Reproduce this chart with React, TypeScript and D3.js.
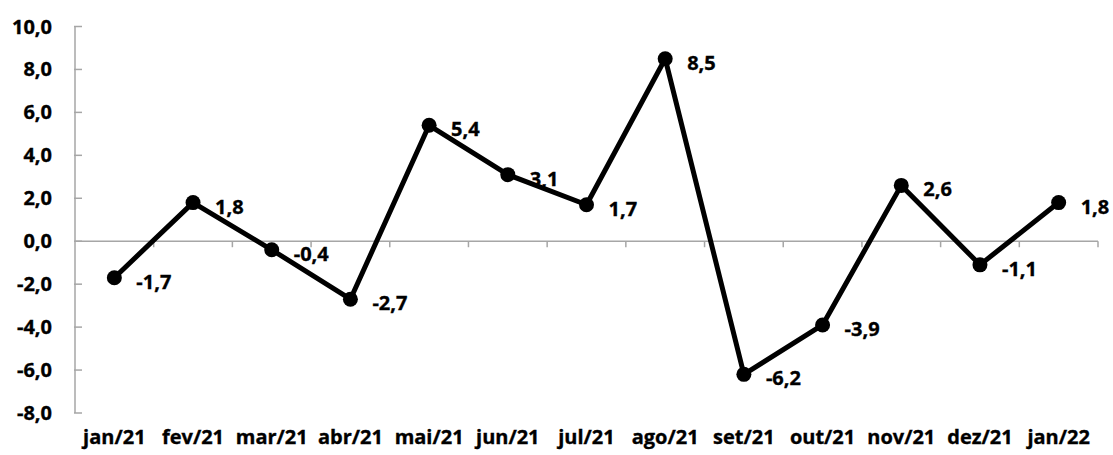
import React, { useEffect, useRef } from 'react';
import * as d3 from 'd3';

const WIDTH = 1113;
const HEIGHT = 455;

const months = [
  'jan/21', 'fev/21', 'mar/21', 'abr/21', 'mai/21', 'jun/21', 'jul/21',
  'ago/21', 'set/21', 'out/21', 'nov/21', 'dez/21', 'jan/22',
];
const values = [-1.7, 1.8, -0.4, -2.7, 5.4, 3.1, 1.7, 8.5, -6.2, -3.9, 2.6, -1.1, 1.8];
const yTicks = [-8, -6, -4, -2, 0, 2, 4, 6, 8, 10];

const FONT = '"Open Sans", Lato, sans-serif';
const FONT_SIZE = 20;
const AXIS_GREY = '#a6a6a6';

const fmt = (v: number) => v.toFixed(1).replace('.', ',');

const App: React.FC = () => {
  const ref = useRef<SVGSVGElement>(null);

  useEffect(() => {
    const svg = d3.select(ref.current);
    svg.selectAll('*').remove();

    const x = d3.scaleBand<string>().domain(months).range([75, 1098]);
    const y = d3.scaleLinear().domain([-8, 10]).range([413, 26.5]);
    const cx = (m: string) => (x(m) as number) + x.bandwidth() / 2;

    const boldText = (sel: any) =>
      sel
        .attr('font-family', FONT)
        .attr('font-weight', 'bold')
        .attr('font-size', FONT_SIZE)
        .attr('fill', '#000')
        .attr('stroke', '#000')
        .attr('stroke-width', 0.35);

    // y axis: line + inner ticks
    const yAxis = svg.append('g');
    yAxis
      .append('line')
      .attr('x1', 75)
      .attr('x2', 75)
      .attr('y1', y(-8))
      .attr('y2', y(10))
      .attr('stroke', AXIS_GREY)
      .attr('stroke-width', 1.5);
    yAxis
      .selectAll('line.tick')
      .data(yTicks)
      .join('line')
      .attr('class', 'tick')
      .attr('x1', 74)
      .attr('x2', 82)
      .attr('y1', (d) => y(d))
      .attr('y2', (d) => y(d))
      .attr('stroke', AXIS_GREY)
      .attr('stroke-width', 1.5);
    yAxis
      .selectAll('text')
      .data(yTicks)
      .join('text')
      .attr('x', 52)
      .attr('y', (d) => y(d))
      .attr('dy', '0.35em')
      .attr('text-anchor', 'end')
      .call(boldText)
      .text((d) => fmt(d));

    // zero line with category ticks
    const xAxis = svg.append('g');
    xAxis
      .append('line')
      .attr('x1', 75)
      .attr('x2', 1098)
      .attr('y1', y(0))
      .attr('y2', y(0))
      .attr('stroke', AXIS_GREY)
      .attr('stroke-width', 1.5);
    const bounds = months.map((m) => x(m) as number).concat([1098]);
    xAxis
      .selectAll('line.tick')
      .data(bounds.slice(1))
      .join('line')
      .attr('class', 'tick')
      .attr('x1', (d) => d)
      .attr('x2', (d) => d)
      .attr('y1', y(0))
      .attr('y2', y(0) + 6)
      .attr('stroke', AXIS_GREY)
      .attr('stroke-width', 1.5);
    xAxis
      .selectAll('text')
      .data(months)
      .join('text')
      .attr('x', (d) => cx(d))
      .attr('y', 437)
      .attr('dy', '0.35em')
      .attr('text-anchor', 'middle')
      .call(boldText)
      .text((d) => d);

    // series
    const line = d3
      .line<number>()
      .x((_, i) => cx(months[i]))
      .y((d) => y(d));
    svg
      .append('path')
      .datum(values)
      .attr('fill', 'none')
      .attr('stroke', '#000')
      .attr('stroke-width', 5)
      .attr('stroke-linejoin', 'round')
      .attr('d', line);

    svg
      .append('g')
      .selectAll('circle')
      .data(values)
      .join('circle')
      .attr('cx', (_, i) => cx(months[i]))
      .attr('cy', (d) => y(d))
      .attr('r', 7.5)
      .attr('fill', '#000');

    svg
      .append('g')
      .selectAll('text')
      .data(values)
      .join('text')
      .attr('x', (_, i) => cx(months[i]) + 22)
      .attr('y', (d) => y(d) + 4)
      .attr('dy', '0.35em')
      .call(boldText)
      .text((d) => fmt(d));
  }, []);

  return (
    <svg
      ref={ref}
      width={WIDTH}
      height={HEIGHT}
      style={{ position: 'absolute', left: 0, top: 0, background: '#fff' }}
    />
  );
};

export default App;
